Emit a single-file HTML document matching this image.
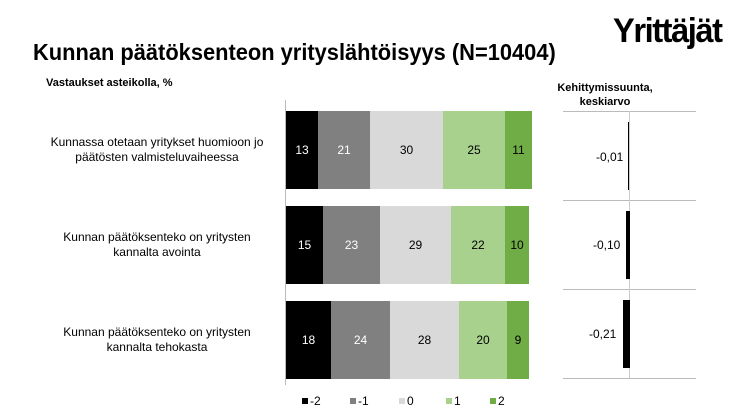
<!DOCTYPE html><html><head><meta charset="utf-8"><style>
body{margin:0;width:750px;height:420px;background:#fff;font-family:"Liberation Sans",sans-serif;position:relative;overflow:hidden}
.a{position:absolute}
.s{position:absolute;font-size:12px;display:flex;align-items:center;justify-content:center}
.l{position:absolute;font-size:12px;text-align:center;width:270px;left:22px;line-height:15px}
</style></head><body>
<div class="a" style="left:613px;top:12px;font-size:34px;font-weight:bold;letter-spacing:-1.5px;transform:scaleX(0.96);transform-origin:left">Yrittäjät</div>
<div class="a" style="left:33px;top:39px;font-size:23px;font-weight:bold;transform:scaleX(0.95);transform-origin:left">Kunnan päätöksenteon yrityslähtöisyys (N=10404)</div>
<div class="a" style="left:46px;top:77px;font-size:11px;font-weight:bold">Vastaukset asteikolla, %</div>
<div class="a" style="left:545px;top:81px;width:120px;text-align:center;font-size:11px;font-weight:bold;line-height:14px">Kehittymissuunta,<br>keskiarvo</div>
<div class="l" style="top:135px">Kunnassa otetaan yritykset huomioon jo<br>päätösten valmisteluvaiheessa</div>
<div class="l" style="top:230px">Kunnan päätöksenteko on yritysten<br>kannalta avointa</div>
<div class="l" style="top:325px">Kunnan päätöksenteko on yritysten<br>kannalta tehokasta</div>
<div class="a" style="left:285px;top:100px;width:1px;height:285px;background:#bbb"></div>
<div id="bars"></div>
<div class="a" style="left:563px;top:111px;width:133px;height:1px;background:#bbb"></div>
<div class="a" style="left:563px;top:200px;width:133px;height:1px;background:#bbb"></div>
<div class="a" style="left:563px;top:289px;width:133px;height:1px;background:#bbb"></div>
<div class="a" style="left:563px;top:378px;width:133px;height:1px;background:#bbb"></div>
<div class="a" style="left:629px;top:111px;width:1px;height:267px;background:#ccc"></div>
<div class="a" style="left:628px;top:122px;width:1px;height:68px;background:#000"></div>
<div class="a" style="left:626px;top:211px;width:4px;height:68px;background:#000"></div>
<div class="a" style="left:623px;top:300px;width:7px;height:68px;background:#000"></div>
<div class="a" style="left:596px;top:150px;font-size:12px">-0,01</div>
<div class="a" style="left:593px;top:238px;font-size:12px">-0,10</div>
<div class="a" style="left:589px;top:327px;font-size:12px">-0,21</div>
<div class="a" style="top:395px;left:0;font-size:12px">
<span class="a" style="left:302px;top:3px;width:6px;height:6px;background:#000"></span><span class="a" style="left:310px;top:-1px">-2</span>
<span class="a" style="left:350px;top:3px;width:6px;height:6px;background:#808080"></span><span class="a" style="left:358px;top:-1px">-1</span>
<span class="a" style="left:399px;top:3px;width:6px;height:6px;background:#d9d9d9"></span><span class="a" style="left:407px;top:-1px">0</span>
<span class="a" style="left:446px;top:3px;width:6px;height:6px;background:#a9d18e"></span><span class="a" style="left:454px;top:-1px">1</span>
<span class="a" style="left:490px;top:3px;width:6px;height:6px;background:#70ad47"></span><span class="a" style="left:498px;top:-1px">2</span>
</div>
<script>
var rows=[[111,[286,318,370,443,505,532],[13,21,30,25,11]],[206,[286,323,380,451,505,529],[15,23,29,22,10]],[301,[286,331,390,459,507,529],[18,24,28,20,9]]];
var c=["#000","#808080","#d9d9d9","#a9d18e","#70ad47"],tc=["#fff","#fff","#000","#000","#000"],h="";
rows.forEach(function(r){for(var i=0;i<5;i++){h+='<div class="s" style="left:'+r[1][i]+'px;top:'+r[0]+'px;width:'+(r[1][i+1]-r[1][i])+'px;height:78px;background:'+c[i]+';color:'+tc[i]+'">'+r[2][i]+'</div>';}});
document.getElementById("bars").innerHTML=h;
</script>
</body></html>
